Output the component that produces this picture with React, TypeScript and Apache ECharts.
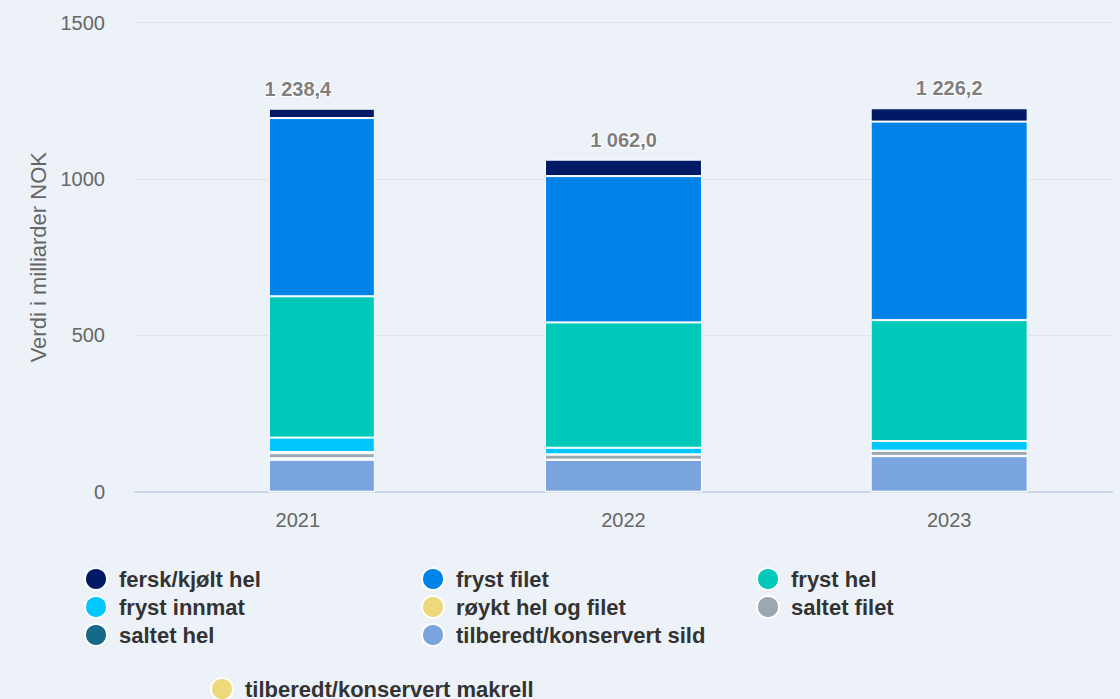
import React, { useEffect, useRef } from "react";
import * as echarts from "echarts";

const years = ["2021", "2022", "2023"];
const reportedTotals = [1238.4, 1062.0, 1226.2];
const ferskKjoltHel = [30, 52.5, 42.6];
const frystFilet = [570, 468, 635];
const frystHel = [452, 401, 386.5];
const frystInnmat = [46, 21, 31];
const rokytHelOgFilet = [4, 1, 0.5];
const saltetFilet = [16, 16, 16];
const saltetHel = [5, 1, 1];
const tilberedtSild = [102, 101.5, 113.7];
const tilberedtMakrell = [0, 0, 0];
const yTicks = [0, 500, 1000, 1500];

const N = {
  fersk: "fersk/kjølt hel",
  filet: "fryst filet",
  hel: "fryst hel",
  innmat: "fryst innmat",
  royk: "røykt hel og filet",
  sfilet: "saltet filet",
  shel: "saltet hel",
  sild: "tilberedt/konservert sild",
  makrell: "tilberedt/konservert makrell",
};

// bottom to top
const seriesDefs: [string, number[], string][] = [
  [N.makrell, tilberedtMakrell, "#eed97a"],
  [N.sild, tilberedtSild, "#7aa4de"],
  [N.shel, saltetHel, "#17698a"],
  [N.sfilet, saltetFilet, "#9aa8b2"],
  [N.royk, rokytHelOgFilet, "#eed97a"],
  [N.innmat, frystInnmat, "#00c8ff"],
  [N.hel, frystHel, "#00c9b9"],
  [N.filet, frystFilet, "#0083e8"],
  [N.fersk, ferskKjoltHel, "#001a66"],
];

function fmt(v: number) {
  const [i, d] = v.toFixed(1).split(".");
  return i.replace(/\B(?=(\d{3})+(?!\d))/g, " ") + "," + d;
}

export default function App() {
  const ref = useRef<HTMLDivElement>(null);
  useEffect(() => {
    if (!ref.current) return;
    const chart = echarts.init(ref.current, undefined, { renderer: "svg" });
    const font = "'Liberation Sans', Arial, Helvetica, sans-serif";
    const labelBase = {
      show: true,
      position: "top",
      distance: 10,
      formatter: (p: any) => fmt(reportedTotals[p.dataIndex]),
      color: "#7f7f7f",
      fontSize: 20,
      fontWeight: "bold",
      fontFamily: font,
      textBorderColor: "#ffffff",
      textBorderWidth: 2,
    };
    const setA = seriesDefs.map(([name, vals, color], k) => ({
      type: "bar",
      name,
      stack: "a",
      xAxisIndex: 0,
      barWidth: 157,
      data: vals.map((v, j) => (j === 0 ? "-" : v)),
      itemStyle: { color, borderColor: "#ffffff", borderWidth: 1 },
      label: k === seriesDefs.length - 1 ? labelBase : { show: false },
    }));
    const spacer = {
      type: "bar",
      name: "spacer",
      stack: "sp",
      xAxisIndex: 1,
      barWidth: 48,
      barGap: "0%",
      silent: true,
      data: [0, 0, 0],
      itemStyle: { color: "rgba(0,0,0,0)" },
    };
    const setB = seriesDefs.map(([name, vals, color], k) => ({
      type: "bar",
      name,
      stack: "b",
      xAxisIndex: 1,
      barWidth: 106,
      barGap: "0%",
      data: vals.map((v, j) => (j === 0 ? v : "-")),
      itemStyle: { color, borderColor: "#ffffff", borderWidth: 1 },
      label:
        k === seriesDefs.length - 1
          ? { ...labelBase, offset: [-24, 0] }
          : { show: false },
    }));
    const legendCommon = {
      orient: "vertical",
      padding: 0,
      itemWidth: 22,
      itemHeight: 22,
      itemGap: 4,
      icon: "circle",
      selectedMode: false,
      textStyle: {
        fontSize: 22,
        fontWeight: "bold",
        color: "#333333",
        fontFamily: font,
        padding: [0, 0, 0, 7],
        lineHeight: 22,
        height: 22,
      },
    };
    chart.setOption({
      animation: false,
      backgroundColor: "#ecf2f8",
      textStyle: { fontFamily: font },
      grid: { left: 135, right: 8, top: 22.7, height: 469 },
      xAxis: [
        {
          type: "category",
          data: years,
          axisLine: { lineStyle: { color: "#ccd6eb", width: 2 } },
          axisTick: { show: false },
          axisLabel: { color: "#666666", fontSize: 20, margin: 18 },
        },
        { type: "category", data: years, show: false },
      ],
      yAxis: {
        type: "value",
        min: yTicks[0],
        max: yTicks[yTicks.length - 1],
        interval: yTicks[1] - yTicks[0],
        name: "Verdi i milliarder NOK",
        nameLocation: "middle",
        nameGap: 82,
        nameTextStyle: { color: "#666666", fontSize: 22 },
        axisLabel: {
          color: "#666666",
          fontSize: 20,
          margin: 30,
          formatter: (v: number) => String(v),
        },
        axisLine: { show: false },
        axisTick: { show: false },
        splitLine: { lineStyle: { color: "#e3e3e3", width: 1 } },
      },
      legend: [
        { ...legendCommon, left: 84, top: 567, data: [N.fersk, N.innmat, N.shel] },
        { ...legendCommon, left: 421, top: 567, data: [N.filet, N.royk, N.sild] },
        { ...legendCommon, left: 756, top: 567, data: [N.hel, N.sfilet] },
        { ...legendCommon, left: 210, top: 677, data: [N.makrell] },
      ],
      series: [...setA, spacer, ...setB],
    });
    return () => chart.dispose();
  }, []);
  return (
    <div
      ref={ref}
      style={{ position: "fixed", left: 0, top: 0, width: 1120, height: 699 }}
    />
  );
}
